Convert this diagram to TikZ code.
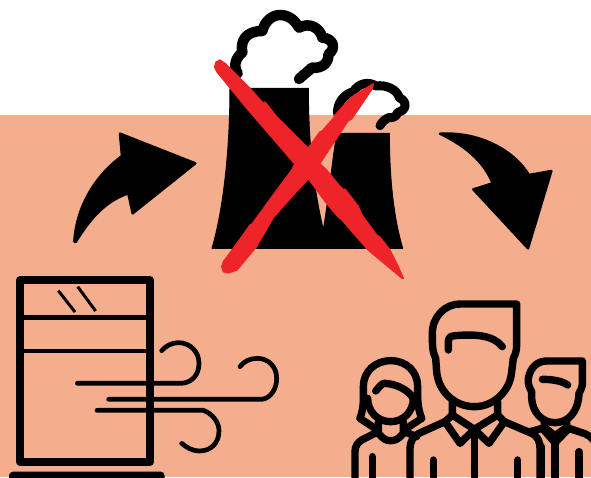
\documentclass[tikz,border=0pt]{standalone}
\definecolor{peach}{HTML}{F4AE8E}
\definecolor{crossred}{HTML}{EE2428}
\tikzset{
  solidblack/.style={fill=black,draw=black,line width=1pt,line join=round},
  smokeline/.style={draw=black,line width=10.5pt,line cap=round,line join=round},
  windline/.style={draw=black,line width=4.7pt,line cap=round},
  personline/.style={draw=black,line width=7.4pt,line cap=round,line join=round},
  redmark/.style={fill=crossred,draw=crossred,line width=1.2pt,line join=round}
}
\begin{document}
\begin{tikzpicture}[x=1pt,y=-1pt]
\useasboundingbox (0,0) rectangle (591,477);
\clip (0,0) rectangle (591,477);
\fill[white] (0,0) rectangle (591,115);
\fill[peach] (0,115) rectangle (591,477);
% left arrow
\begin{scope}[shift={(60,120)},scale=1/3]
\draw[solidblack,line width=2.5pt] (43,365) .. controls (50,250) and (115,160) .. (186,108)
 -- (180,41) -- (406,130) -- (218,280) -- (205,220)
 .. controls (130,245) and (85,305) .. (47,366) -- cycle;
\end{scope}
% right arrow
\begin{scope}[shift={(430,120)},scale=1/3]
\draw[solidblack,line width=2.5pt] (30,41) .. controls (150,35) and (250,90) .. (297,165)
 -- (364,153) -- (294,385) -- (130,208) -- (188,190)
 .. controls (160,120) and (100,75) .. (30,41) -- cycle;
\end{scope}
% factory
\begin{scope}[shift={(200,0)},scale=1/3]
\draw[solidblack] (90,265) -- (325,265) .. controls (325,400) and (335,540) .. (370,690)
 .. controls (385,600) and (395,500) .. (410,400) -- (568,400)
 .. controls (568,530) and (580,650) .. (608,745) -- (36,745)
 .. controls (70,630) and (90,450) .. (90,265) -- cycle;
\end{scope}
% large smoke
\begin{scope}[shift={(225,5)},scale=1/3]
\draw[smokeline] (38,205) .. controls (25,185) and (30,160) .. (52,142)
 .. controls (45,105) and (65,78) .. (112,78)
 .. controls (120,45) and (145,30) .. (165,30)
 .. controls (190,30) and (210,45) .. (222,68)
 .. controls (255,50) and (285,70) .. (292,98)
 .. controls (325,100) and (335,130) .. (310,148)
 .. controls (312,170) and (295,192) .. (260,188)
 .. controls (255,195) and (240,205) .. (222,222);
\end{scope}
% small smoke
\begin{scope}[shift={(300,75)},scale=1/3]
\draw[smokeline,line width=9pt] (112,115) .. controls (112,85) and (130,58) .. (160,50)
 .. controls (175,25) and (205,18) .. (228,33)
 .. controls (260,28) and (292,45) .. (298,68)
 .. controls (325,80) and (318,108) .. (293,112)
 .. controls (292,125) and (275,130) .. (265,128)
 .. controls (255,133) and (245,142) .. (240,152);
\end{scope}
% red cross
\fill[redmark] (220,60) -- (225,63.3) -- (250,88.3) -- (263,103) -- (265,102) -- (276.7,116.7) -- (308.3,148.3)
 -- (316,160) -- (326.7,170) -- (338,184) -- (343.3,189.7) -- (345,189) -- (358.3,206.3) -- (362,215) -- (376.7,235) -- (380,237) -- (390,250) -- (398.3,266.7) -- (403.5,278.5)
 -- (401.7,278) -- (386,265) -- (368,250) -- (341.3,219.3) -- (338,217) -- (324.7,201) -- (306.3,176)
 -- (295,164.3) -- (275,141) -- (249,111) -- (216.7,71.7) -- (214.5,67) -- (216,62) -- cycle;
\fill[redmark] (221.7,266.7) -- (223.3,261.7) -- (233.3,248.3) -- (250,225) -- (252,224) -- (276.7,190) -- (291.7,170) -- (295,163.3)
 -- (306.7,150) -- (320,131.7) -- (322,131) -- (333.3,118.3) -- (335,115) -- (350,98.3) -- (356,94) -- (373.5,83.8)
 -- (371.7,89.5) -- (352,118.7) -- (348,121) -- (335.3,140.3) -- (318.7,165.3) -- (310.3,177)
 -- (293,195.3) -- (273,218) -- (256.3,247) -- (237,270) -- (228.3,273) -- (223.3,271.7) -- cycle;
% window and wind
\begin{scope}[shift={(0,265)},scale=1/3]
\draw[black,line width=8.3pt,line join=round] (61,46) rectangle (450,590);
\draw[black,line width=4.7pt] (61,157) -- (450,157);
\draw[black,line width=4.7pt] (61,258) -- (450,258);
\draw[black,line width=3pt] (175,77) -- (225,141);
\draw[black,line width=3pt] (233,65) -- (287,138);
\draw[windline] (232,355) -- (545,355) .. controls (580,352) and (597,325) .. (597,295) .. controls (597,260) and (570,233) .. (535,233) .. controls (515,233) and (497,243) .. (485,257);
\draw[windline] (326,403) -- (785,403) .. controls (812,400) and (830,372) .. (830,340) .. controls (830,305) and (805,280) .. (772,280) .. controls (750,280) and (730,290) .. (720,305);
\draw[windline] (291,436) -- (610,436) .. controls (635,445) and (657,470) .. (657,497) .. controls (657,535) and (632,558) .. (598,558) .. controls (578,558) and (560,548) .. (545,535);
\fill[black,rounded corners=4pt] (27,620) rectangle (494,680);
\end{scope}
% people
\begin{scope}[shift={(345,290)},scale=1/3]
% woman
\draw[personline] (45,385) .. controls (58,350) and (55,320) .. (55,290) .. controls (55,245) and (90,212) .. (137,212) .. controls (185,212) and (218,245) .. (218,290) .. controls (218,320) and (216,350) .. (230,385);
\draw[personline] (45,385) -- (90,415);
\draw[personline] (230,385) -- (185,415);
\draw[personline] (68,325) .. controls (68,365) and (98,395) .. (137,395) .. controls (175,395) and (205,365) .. (205,325);
\draw[personline] (92,303) .. controls (105,290) and (108,280) .. (120,280) .. controls (155,282) and (190,300) .. (205,325);
\draw[personline] (100,395) -- (100,430) .. controls (115,448) and (125,452) .. (137,452) .. controls (150,452) and (160,448) .. (175,430) -- (175,395);
\draw[personline] (90,430) -- (50,450) .. controls (38,458) and (30,468) .. (30,485) -- (30,570);
\draw[personline] (178,425) -- (215,440);
\draw[personline] (82,500) -- (82,570);
% right man
\draw[personline] (560,305) .. controls (552,290) and (548,280) .. (550,265) .. controls (555,235) and (575,213) .. (605,213) -- (712,213) -- (712,285) .. controls (712,295) and (705,300) .. (702,310);
\draw[personline] (560,305) -- (560,325) .. controls (562,365) and (590,398) .. (630,398) .. controls (670,398) and (700,365) .. (702,310);
\draw[personline] (592,268) .. controls (620,268) and (650,272) .. (668,285);
\draw[personline] (598,390) -- (598,412) -- (630,437) -- (665,412) -- (665,390);
\draw[personline] (592,415) -- (630,458) -- (672,415) -- (722,432) .. controls (732,436) and (738,442) .. (745,450);
\draw[personline] (592,415) -- (555,425);
\draw[personline] (630,440) -- (630,570);
\draw[personline] (702,485) -- (702,570);
\draw[personline] (590,470) -- (590,570);
% centre man
\draw[personline] (272,205) .. controls (262,185) and (262,165) .. (262,130) .. controls (262,80) and (300,42) .. (345,42) -- (515,42) -- (515,165) .. controls (515,185) and (510,195) .. (505,205);
\draw[personline] (272,205) -- (275,245) .. controls (280,305) and (330,350) .. (388,350) .. controls (445,350) and (495,305) .. (500,245) -- (505,205);
\draw[personline] (310,180) -- (310,150) .. controls (310,142) and (318,138) .. (330,137) .. controls (390,132) and (445,135) .. (472,170);
\draw[personline] (322,335) -- (322,375) -- (388,418) -- (458,375) -- (458,335);
\draw[personline] (322,375) -- (300,395) -- (345,460) -- (388,418) -- (432,460) -- (478,395) -- (458,375);
\draw[personline] (300,395) -- (222,430) .. controls (205,438) and (195,455) .. (195,475) -- (195,570);
\draw[personline] (478,395) -- (560,430) .. controls (578,438) and (585,455) .. (585,475) -- (585,570);
\draw[personline] (388,418) -- (388,570);
\draw[personline] (265,510) -- (265,570);
\draw[personline] (518,510) -- (518,570);
\end{scope}
\end{tikzpicture}
\end{document}
